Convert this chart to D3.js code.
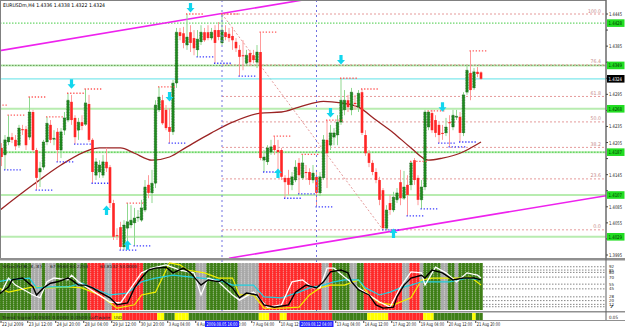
<!DOCTYPE html>
<html>
<head>
<meta charset="utf-8">
<script src="https://cdn.jsdelivr.net/npm/d3@7"></script>
<style>
  html, body { margin: 0; padding: 0; background: #fff; }
  svg { display: block; font-family: "DejaVu Sans", "Liberation Sans", sans-serif; }
</style>
</head>
<body>
<svg id="chart" width="625" height="327"></svg>
<script>
// ---- bar data (EURUSDm H4, bar 0 = 22 Jul 2009 00:00) ----
const barOpen = [
  1.4191, 1.4195, 1.4182, 1.4206, 1.4215, 1.4210, 1.4200, 1.4230, 1.4230, 1.4215,
  1.4262, 1.4191, 1.4150, 1.4159, 1.4206, 1.4238, 1.4211, 1.4225, 1.4191, 1.4228,
  1.4247, 1.4281, 1.4251, 1.4228, 1.4243, 1.4239, 1.4277, 1.4210, 1.4144, 1.4150,
  1.4144, 1.4169, 1.4159, 1.4092, 1.4032, 1.4047, 1.4010, 1.4045, 1.4051, 1.4055,
  1.4064, 1.4060, 1.4079, 1.4126, 1.4111, 1.4129, 1.4266, 1.4284, 1.4266, 1.4234,
  1.4225, 1.4316, 1.4411, 1.4409, 1.4387, 1.4411, 1.4400, 1.4378, 1.4393, 1.4411,
  1.4411, 1.4400, 1.4415, 1.4415, 1.4391, 1.4411, 1.4408, 1.4404, 1.4393, 1.4378,
  1.4368, 1.4353, 1.4372, 1.4368, 1.4355, 1.4374, 1.4172, 1.4169, 1.4187, 1.4200,
  1.4191, 1.4191, 1.4139, 1.4139, 1.4126, 1.4135, 1.4167, 1.4139, 1.4150, 1.4150,
  1.4135, 1.4141, 1.4111, 1.4139, 1.4210, 1.4200, 1.4215, 1.4219, 1.4243, 1.4266,
  1.4284, 1.4266, 1.4279, 1.4271, 1.4299, 1.4219, 1.4185, 1.4167, 1.4150, 1.4135,
  1.4116, 1.4045, 1.4092, 1.4079, 1.4098, 1.4131, 1.4101, 1.4126, 1.4126, 1.4172,
  1.4139, 1.4098, 1.4122, 1.4234, 1.4260, 1.4247, 1.4238, 1.4223, 1.4223, 1.4243,
  1.4234, 1.4253, 1.4253, 1.4223, 1.4299, 1.4335, 1.4307, 1.4337, 1.4336
];
const barHigh = [
  1.4200, 1.4204, 1.4219, 1.4256, 1.4223, 1.4219, 1.4238, 1.4238, 1.4236, 1.4290,
  1.4266, 1.4195, 1.4169, 1.4210, 1.4253, 1.4247, 1.4228, 1.4232, 1.4232, 1.4262,
  1.4297, 1.4294, 1.4256, 1.4251, 1.4256, 1.4305, 1.4294, 1.4213, 1.4176, 1.4172,
  1.4182, 1.4195, 1.4163, 1.4098, 1.4045, 1.4057, 1.4060, 1.4092, 1.4088, 1.4083,
  1.4079, 1.4098, 1.4135, 1.4144, 1.4154, 1.4284, 1.4309, 1.4294, 1.4275, 1.4269,
  1.4322, 1.4419, 1.4419, 1.4421, 1.4445, 1.4424, 1.4415, 1.4415, 1.4424, 1.4419,
  1.4424, 1.4419, 1.4424, 1.4430, 1.4445, 1.4424, 1.4419, 1.4421, 1.4400, 1.4387,
  1.4396, 1.4378, 1.4378, 1.4378, 1.4387, 1.4411, 1.4191, 1.4200, 1.4210, 1.4217,
  1.4210, 1.4195, 1.4144, 1.4154, 1.4150, 1.4172, 1.4176, 1.4183, 1.4163, 1.4157,
  1.4163, 1.4154, 1.4150, 1.4219, 1.4247, 1.4238, 1.4232, 1.4256, 1.4325, 1.4303,
  1.4294, 1.4307, 1.4294, 1.4303, 1.4305, 1.4228, 1.4191, 1.4172, 1.4157, 1.4141,
  1.4120, 1.4088, 1.4107, 1.4113, 1.4120, 1.4154, 1.4152, 1.4144, 1.4170, 1.4176,
  1.4144, 1.4135, 1.4266, 1.4264, 1.4266, 1.4256, 1.4243, 1.4238, 1.4251, 1.4256,
  1.4266, 1.4266, 1.4262, 1.4299, 1.4350, 1.4376, 1.4344, 1.4346, 1.4338
];
const barLow = [
  1.4176, 1.4161, 1.4154, 1.4200, 1.4204, 1.4191, 1.4195, 1.4219, 1.4191, 1.4210,
  1.4187, 1.4116, 1.4122, 1.4154, 1.4200, 1.4204, 1.4200, 1.4169, 1.4176, 1.4219,
  1.4243, 1.4238, 1.4202, 1.4210, 1.4228, 1.4236, 1.4206, 1.4129, 1.4135, 1.4139,
  1.4139, 1.4150, 1.4083, 1.4023, 1.4023, 1.4004, 1.4004, 1.4010, 1.4045, 1.4012,
  1.4057, 1.4057, 1.4075, 1.4101, 1.4092, 1.4120, 1.4262, 1.4238, 1.4228, 1.4204,
  1.4219, 1.4307, 1.4396, 1.4381, 1.4378, 1.4374, 1.4368, 1.4365, 1.4387, 1.4393,
  1.4396, 1.4396, 1.4353, 1.4396, 1.4387, 1.4396, 1.4393, 1.4378, 1.4374, 1.4329,
  1.4340, 1.4350, 1.4348, 1.4353, 1.4344, 1.4172, 1.4150, 1.4163, 1.4182, 1.4182,
  1.4154, 1.4135, 1.4101, 1.4107, 1.4116, 1.4131, 1.4109, 1.4135, 1.4135, 1.4126,
  1.4129, 1.4085, 1.4105, 1.4135, 1.4120, 1.4191, 1.4200, 1.4200, 1.4238, 1.4256,
  1.4262, 1.4256, 1.4266, 1.4262, 1.4219, 1.4180, 1.4159, 1.4144, 1.4129, 1.4088,
  1.4042, 1.4042, 1.4070, 1.4075, 1.4092, 1.4088, 1.4098, 1.4068, 1.4116, 1.4126,
  1.4088, 1.4081, 1.4116, 1.4228, 1.4223, 1.4215, 1.4204, 1.4210, 1.4217, 1.4197,
  1.4228, 1.4247, 1.4206, 1.4217, 1.4294, 1.4284, 1.4303, 1.4327, 1.4322
];
const barClose = [
  1.4182, 1.4178, 1.4210, 1.4215, 1.4210, 1.4198, 1.4232, 1.4228, 1.4200, 1.4262,
  1.4191, 1.4139, 1.4157, 1.4206, 1.4241, 1.4210, 1.4213, 1.4191, 1.4225, 1.4251,
  1.4284, 1.4247, 1.4215, 1.4243, 1.4236, 1.4279, 1.4210, 1.4150, 1.4169, 1.4163,
  1.4169, 1.4157, 1.4092, 1.4029, 1.4030, 1.4010, 1.4051, 1.4057, 1.4060, 1.4064,
  1.4066, 1.4083, 1.4122, 1.4111, 1.4129, 1.4275, 1.4290, 1.4241, 1.4232, 1.4225,
  1.4316, 1.4411, 1.4404, 1.4391, 1.4402, 1.4391, 1.4381, 1.4398, 1.4411, 1.4396,
  1.4400, 1.4411, 1.4391, 1.4402, 1.4415, 1.4402, 1.4400, 1.4396, 1.4381, 1.4365,
  1.4366, 1.4368, 1.4355, 1.4359, 1.4374, 1.4176, 1.4178, 1.4195, 1.4197, 1.4191,
  1.4187, 1.4141, 1.4131, 1.4126, 1.4141, 1.4159, 1.4144, 1.4167, 1.4148, 1.4135,
  1.4148, 1.4111, 1.4141, 1.4210, 1.4185, 1.4223, 1.4223, 1.4243, 1.4284, 1.4284,
  1.4271, 1.4299, 1.4277, 1.4297, 1.4223, 1.4185, 1.4167, 1.4150, 1.4135, 1.4098,
  1.4045, 1.4079, 1.4079, 1.4103, 1.4111, 1.4101, 1.4122, 1.4107, 1.4167, 1.4135,
  1.4098, 1.4122, 1.4262, 1.4262, 1.4228, 1.4223, 1.4219, 1.4221, 1.4234, 1.4241,
  1.4256, 1.4254, 1.4223, 1.4294, 1.4340, 1.4303, 1.4337, 1.4333, 1.4324
];

// moving average, read at selected bars: [bar, price]
const maPoints = [
  [0, 1.4076], [10, 1.4126], [18, 1.4163], [26, 1.4191], [29, 1.4195], [35, 1.4195],
  [39, 1.4185], [44, 1.4172], [49, 1.4178], [54, 1.4197], [61, 1.4223], [67, 1.4243],
  [75, 1.4260], [81, 1.4262], [86, 1.4271], [93, 1.4282], [98, 1.4279], [103, 1.4271],
  [108, 1.4247], [113, 1.4223], [118, 1.4195], [123, 1.4172], [127, 1.4176], [132, 1.4185],
  [138, 1.4206]
];

// fractal levels: [bar, price]
const fractalHighs = [
  [-2, 1.4275], [3, 1.4256], [9, 1.4290], [14, 1.4253], [20, 1.4297], [25, 1.4305],
  [37, 1.4092], [46, 1.4309], [54, 1.4445], [64, 1.4445], [75, 1.4411], [79, 1.4217],
  [87, 1.4183], [94, 1.4247], [98, 1.4325], [104, 1.4305], [118, 1.4170], [123, 1.4264],
  [135, 1.4376]
];
const fractalLows = [
  [2, 1.4154], [11, 1.4116], [17, 1.4169], [22, 1.4202], [27, 1.4129], [35, 1.4004],
  [39, 1.4012], [49, 1.4204], [57, 1.4365], [62, 1.4353], [69, 1.4329], [76, 1.4150],
  [82, 1.4101], [86, 1.4109], [91, 1.4085], [110, 1.4042], [117, 1.4068], [121, 1.4081],
  [126, 1.4204], [129, 1.4197], [132, 1.4206]
];

// signal arrows: [bar, price, direction]  (1 = down, -1 = up)
const signalArrows = [
  [21, 1.4314, 1], [31, 1.4079, -1], [37, 1.4014, -1], [49, 1.4290, 1], [55, 1.4456, 1],
  [80, 1.4148, -1], [95, 1.4260, 1], [98, 1.4359, 1], [113, 1.4036, -1], [127, 1.4271, 1]
];

// fibonacci retracement
const fibHigh = [64, 1.4445];
const fibLow = [110, 1.4042];
const fibRatios = [0, 23.6, 38.2, 50, 61.8, 76.4, 100];

// support / resistance levels
const srLevels = [1.4428, 1.4349, 1.4268, 1.4187, 1.4107, 1.4029];

// trend lines: two [bar, price] anchors each
const trendUpper = [[0, 1.4376], [86, 1.4470]];
const trendLower = [[66, 1.3989], [138, 1.4067]];

// vertical markers
const markerBars = [64, 91];
const markerLabels = ["2009.08.05 16:00", "2009.08.12 04:00"];

// axes
const priceTicks = [1.4445, 1.4415, 1.4385, 1.4355, 1.4325, 1.4295, 1.4265, 1.4235,
  1.4205, 1.4175, 1.4145, 1.4115, 1.4085, 1.4055, 1.4025, 1.3995];
const timeTickBars = [0, 9, 17, 25, 33, 41, 49, 57, 65, 73, 81, 89, 97, 105, 113, 121, 129, 137];
const timeTickLabels = ["22 Jul 2009", "23 Jul 12:00", "24 Jul 20:00", "28 Jul 04:00", "29 Jul 12:00",
  "30 Jul 20:00", "3 Aug 04:00", "4 Aug 12:00", "5 Aug 20:00", "7 Aug 04:00", "10 Aug 12:00",
  "11 Aug 20:00", "13 Aug 04:00", "14 Aug 12:00", "17 Aug 20:00", "19 Aug 04:00", "20 Aug 12:00",
  "21 Aug 20:00"];

// oscillator window: [bar, value]
const oscBlack = [[0,32],[3,49],[4,64],[7,68],[10,49],[11,32],[13,47],[15,57],[17,60],[20,68],[21,64],
  [23,53],[25,53],[27,47],[29,38],[32,26],[34,11],[37,15],[39,47],[41,68],[43,85],[45,89],[48,91],
  [50,79],[53,89],[55,79],[58,53],[60,64],[63,60],[64,64],[67,47],[69,26],[71,36],[74,32],[76,11],
  [79,6],[83,11],[85,38],[88,53],[91,47],[93,60],[95,81],[98,85],[100,79],[101,60],[103,43],[106,32],
  [108,11],[110,4],[113,6],[114,28],[116,53],[118,68],[121,74],[122,68],[124,85],[127,79],[130,64],
  [133,68],[136,68],[138,64]];
const oscWhite = [[1,38],[3,68],[5,53],[10,32],[12,26],[14,60],[16,68],[20,64],[21,74],[23,60],[28,36],
  [32,17],[35,15],[38,47],[41,79],[44,89],[48,96],[52,85],[56,79],[58,32],[60,68],[63,60],[67,32],
  [69,21],[73,38],[77,6],[81,11],[84,60],[87,64],[90,47],[92,47],[94,89],[96,89],[99,70],[103,47],
  [109,17],[112,6],[115,49],[118,81],[121,79],[122,53],[125,91],[128,79],[131,60],[134,79],[137,74],
  [138,68]];
const oscCyan = [[0,60],[3,64],[9,68],[11,47],[15,49],[20,49],[24,57],[27,47],[32,32],[37,36],[41,60],
  [45,68],[50,74],[58,68],[63,64],[67,53],[73,53],[76,28],[81,26],[86,38],[89,47],[93,53],[96,60],
  [99,64],[103,64],[105,47],[109,32],[112,38],[115,47],[118,53],[121,60],[125,60],[129,60],[134,68],
  [138,64]];
const oscYellow = [[0,47],[3,38],[6,43],[10,49],[15,47],[20,49],[24,47],[29,32],[34,4],[39,11],[41,32],
  [45,38],[49,100],[52,96],[54,85],[59,79],[63,68],[67,68],[69,32],[73,32],[76,4],[81,4],[86,6],
  [89,32],[92,47],[95,53],[99,53],[103,64],[106,32],[109,15],[113,11],[118,26],[121,64],[124,68],
  [128,68],[132,68],[135,70],[138,53]];
const oscLevels = [92, 85, 80, 70, 55, 45, 28, 20, 12, 7];

// state runs: [state, number of bars]
const oscStateRuns = [["g",10],["s",3],["g",1],["s",3],["g",6],["s",1],["g",2],["r",5],["s",2],["r",9],
  ["g",15],["s",3],["g",9],["s",6],["r",18],["s",2],["r",1],["g",5],["s",2],["g",2],["r",11],["s",2],
  ["r",3],["s",1],["g",5],["s",2],["g",2],["s",1],["g",7]];
const stripStateRuns = [["g",27],["r",6],["y",3],["r",10],["y",2],["g",3],["y",4],["g",20],["y",3],
  ["r",3],["y",2],["r",13],["g",10],["y",6],["r",10],["y",3],["g",11],["y",1],["g",2]];

const titleText = "EURUSDm,H4  1.4336 1.4338 1.4322 1.4324";
const oscHeader = ["Stoch(8,3,3)", "67.9560  64.2254", "63.8132  53.0000"];
const stripHeader = ["Trend Signal  0.0500  0.0000  0.0500  software", "USD"];

// ---- layout ----
const W = 625, H = 327;
const plotRight = 606;
const mainTop = 0, mainBottom = 258;
const oscTop = 261, oscBottom = 311;
const stripTop = 313, stripBottom = 320;

const svg = d3.select('#chart');
const nBars = barClose.length;
const bars = d3.range(nBars);

const x = d3.scaleLinear().domain([0, nBars - 1]).range([-2, 481]);
const y = d3.scaleLinear().domain([1.3995, 1.4445]).range([255, 14]);
const yOsc = d3.scaleLinear().domain([0, 100]).range([310, 263]);
const step = x(1) - x(0);

const expandRuns = runs => runs.flatMap(([s, n]) => d3.range(n).map(() => s));
const oscState = expandRuns(oscStateRuns);
const stripState = expandRuns(stripStateRuns);

const defs = svg.append('defs');
defs.append('clipPath').attr('id', 'clipMain')
  .append('rect').attr('x', 0).attr('y', mainTop).attr('width', plotRight).attr('height', mainBottom - mainTop);
defs.append('clipPath').attr('id', 'clipOsc')
  .append('rect').attr('x', 0).attr('y', oscTop).attr('width', plotRight).attr('height', oscBottom - oscTop);

// small text helper: squeezes text into a fixed width like the terminal font
function smallText(g, tx, ty, str, size, width, fill, anchor) {
  return g.append('text').attr('x', tx).attr('y', ty)
    .attr('font-size', size).attr('fill', fill)
    .attr('text-anchor', anchor || 'start')
    .attr('textLength', width).attr('lengthAdjust', 'spacingAndGlyphs')
    .text(str);
}

// ---- main window ----
const gMain = svg.append('g').attr('clip-path', 'url(#clipMain)');

// support / resistance lines
srLevels.forEach((p, k) => {
  const yy = y(p);
  if (k !== 0) {
    gMain.append('line').attr('x1', 0).attr('x2', plotRight).attr('y1', yy).attr('y2', yy)
      .attr('stroke', '#b8ecb0').attr('stroke-width', 2);
  }
  if (k === 0 || k === 1 || k === 3) {
    gMain.append('line').attr('x1', 0).attr('x2', plotRight).attr('y1', yy).attr('y2', yy)
      .attr('stroke', k === 1 ? '#6a9a5a' : '#44cc44').attr('stroke-width', 1)
      .attr('stroke-dasharray', '1.5,1.5');
  }
});

// fibonacci levels
const fibX0 = x(fibHigh[0]);
fibRatios.forEach(r => {
  const p = fibLow[1] + (fibHigh[1] - fibLow[1]) * r / 100;
  gMain.append('line').attr('x1', fibX0).attr('x2', plotRight).attr('y1', y(p)).attr('y2', y(p))
    .attr('stroke', '#e59a9a').attr('stroke-width', 1).attr('stroke-dasharray', '2,2');
  const label = r.toFixed(1);
  smallText(gMain, 601, y(p) - 1.5, label, 5, label.length * 2.6, '#c88c8c', 'end');
});
gMain.append('line')
  .attr('x1', x(fibHigh[0])).attr('y1', y(fibHigh[1]))
  .attr('x2', x(fibLow[0])).attr('y2', y(fibLow[1]))
  .attr('stroke', '#e59a9a').attr('stroke-width', 1).attr('stroke-dasharray', '2,2');

// bid line
gMain.append('line').attr('x1', 0).attr('x2', plotRight)
  .attr('y1', y(barClose[nBars - 1])).attr('y2', y(barClose[nBars - 1]))
  .attr('stroke', '#7fe8ec').attr('stroke-width', 1.2);

// vertical marker lines
markerBars.forEach(b => {
  svg.append('line').attr('x1', x(b)).attr('x2', x(b)).attr('y1', 0).attr('y2', stripTop - 1)
    .attr('stroke', '#7070e0').attr('stroke-width', 1).attr('stroke-dasharray', '2,3');
});

// trend lines, extended across the window
function extendLine(pts, x0, x1) {
  const [a, b] = pts;
  const px0 = x(a[0]), py0 = y(a[1]), px1 = x(b[0]), py1 = y(b[1]);
  const k = (py1 - py0) / (px1 - px0);
  return [[x0, py0 + (x0 - px0) * k], [x1, py0 + (x1 - px0) * k]];
}
[[trendUpper, -10, 340], [trendLower, x(trendLower[0][0]), plotRight]].forEach(([pts, a, b]) => {
  const seg = extendLine(pts, a, b);
  gMain.append('line').attr('x1', seg[0][0]).attr('y1', seg[0][1]).attr('x2', seg[1][0]).attr('y2', seg[1][1])
    .attr('stroke', '#ee22ee').attr('stroke-width', 1.6);
});

// moving average
gMain.append('path').datum(maPoints)
  .attr('fill', 'none').attr('stroke', '#9b2424').attr('stroke-width', 1.3)
  .attr('d', d3.line().x(d => x(d[0])).y(d => y(d[1])).curve(d3.curveMonotoneX));

// candles
const bull = i => barClose[i] >= barOpen[i];
gMain.append('g').selectAll('line').data(bars).join('line')
  .attr('x1', i => x(i)).attr('x2', i => x(i))
  .attr('y1', i => y(barHigh[i])).attr('y2', i => y(barLow[i]))
  .attr('stroke', i => bull(i) ? '#8fd88f' : '#ff9a9a').attr('stroke-width', 1);
const bodyW = 2.6;
gMain.append('g').selectAll('rect').data(bars).join('rect')
  .attr('x', i => x(i) - bodyW / 2)
  .attr('y', i => y(Math.max(barOpen[i], barClose[i])))
  .attr('width', bodyW)
  .attr('height', i => Math.max(1, Math.abs(y(barOpen[i]) - y(barClose[i]))))
  .attr('fill', i => bull(i) ? '#1f8a1f' : '#ff2626')
  .attr('stroke', i => bull(i) ? '#0b3d0b' : 'none')
  .attr('stroke-width', 0.5)
  .attr('stroke-dasharray', '0.8,0.8');

// fractal levels
const fracLen = 5;
[[fractalHighs, '#ff5a5a'], [fractalLows, '#3c3cff']].forEach(([list, col]) => {
  gMain.append('g').selectAll('line').data(list).join('line')
    .attr('x1', d => x(d[0]) - 1).attr('x2', d => x(d[0] + fracLen))
    .attr('y1', d => y(d[1])).attr('y2', d => y(d[1]))
    .attr('stroke', col).attr('stroke-width', 1.3).attr('stroke-dasharray', '1.3,1.8');
});

// arrows
function arrowPath(dir) {
  const pts = [[-1.6, -5], [1.6, -5], [1.6, 0], [4, 0], [0, 4.5], [-4, 0], [-1.6, 0]];
  return 'M' + pts.map(p => p[0] + ',' + p[1] * dir).join('L') + 'Z';
}
gMain.append('g').selectAll('path').data(signalArrows).join('path')
  .attr('transform', d => `translate(${x(d[0])},${y(d[1])})`)
  .attr('d', d => arrowPath(d[2]))
  .attr('fill', '#11d6ee');

// title
smallText(svg, 3, 7, titleText, 5, 102, '#000');

// ---- oscillator window ----
const gOsc = svg.append('g').attr('clip-path', 'url(#clipOsc)');
oscLevels.forEach(v => {
  gOsc.append('line').attr('x1', 0).attr('x2', plotRight).attr('y1', yOsc(v)).attr('y2', yOsc(v))
    .attr('stroke', '#666').attr('stroke-width', 0.8).attr('stroke-dasharray', '1.5,1.5');
});
const oscColor = { g: '#3f7f17', r: '#ff2a2a', s: '#a9a9a9' };
gOsc.append('g').selectAll('rect').data(bars).join('rect')
  .attr('x', i => x(i) - step / 2).attr('y', yOsc(100))
  .attr('width', step).attr('height', yOsc(0) - yOsc(100))
  .attr('fill', i => oscColor[oscState[i]]);
gOsc.append('g').selectAll('line').data(bars).join('line')
  .attr('x1', i => x(i) - step / 2).attr('x2', i => x(i) - step / 2)
  .attr('y1', yOsc(100)).attr('y2', yOsc(0))
  .attr('stroke', '#e8e8e8').attr('stroke-opacity', 0.7).attr('stroke-width', 0.6)
  .attr('stroke-dasharray', '1,1');
const oscLine = d3.line().x(d => x(d[0])).y(d => yOsc(d[1]));
[[oscYellow, '#f0f000', 1.2], [oscCyan, '#22d0e0', 1.2], [oscWhite, '#ffffff', 1.3], [oscBlack, '#000000', 1.4]]
  .forEach(([data, col, w]) => {
    gOsc.append('path').datum(data).attr('fill', 'none').attr('stroke', col)
      .attr('stroke-width', w).attr('d', oscLine);
  });
smallText(svg, 2, 268, oscHeader[0], 4.2, 40, '#1a1a1a');
smallText(svg, 50, 268, oscHeader[1], 4.2, 38, '#1a1a1a');
smallText(svg, 100, 268, oscHeader[2], 4.2, 37, '#1a1a1a');

// ---- state strip ----
const stripColor = { g: '#3f7f17', r: '#ff2a2a', y: '#ffff00' };
svg.append('g').selectAll('rect').data(bars).join('rect')
  .attr('x', i => Math.max(0, x(i) - step / 2)).attr('y', stripTop)
  .attr('width', step).attr('height', stripBottom - stripTop)
  .attr('fill', i => stripColor[stripState[i]]);
smallText(svg, 2, 318.5, stripHeader[0], 4.2, 108, '#1a1a1a');
smallText(svg, 114, 318.5, stripHeader[1], 4.2, 8, '#1a1a1a');

// ---- frames ----
svg.append('rect').attr('x', 0.5).attr('y', 0.5).attr('width', plotRight - 0.5).attr('height', mainBottom)
  .attr('fill', 'none').attr('stroke', '#808080');
svg.append('rect').attr('x', 0).attr('y', mainBottom).attr('width', W).attr('height', 2.5).attr('fill', '#909090');
svg.append('rect').attr('x', 0).attr('y', oscBottom).attr('width', W).attr('height', 1.5).attr('fill', '#909090');
svg.append('rect').attr('x', 0).attr('y', stripBottom).attr('width', W).attr('height', 1).attr('fill', '#909090');
svg.append('line').attr('x1', plotRight).attr('x2', plotRight).attr('y1', 0).attr('y2', stripBottom)
  .attr('stroke', '#606060');

// ---- price axis ----
const gAxis = svg.append('g');
const boxLevels = srLevels.concat([barClose[nBars - 1]]);
priceTicks.forEach(p => {
  gAxis.append('line').attr('x1', plotRight).attr('x2', plotRight + 2).attr('y1', y(p)).attr('y2', y(p)).attr('stroke', '#444');
  // labels hidden behind a level box are not drawn
  if (boxLevels.some(b => Math.abs(y(b) - y(p)) < 7)) return;
  smallText(gAxis, 609, y(p) + 2, p.toFixed(4), 5, 13, '#222');
});
function axisBox(p, bg, fg) {
  gAxis.append('rect').attr('x', plotRight + 1).attr('y', y(p) - 3.8).attr('width', 17.5).attr('height', 7.6).attr('fill', bg);
  smallText(gAxis, plotRight + 2.5, y(p) + 2, p.toFixed(4), 5, 13.5, fg);
}
srLevels.forEach(p => axisBox(p, '#22dd22', '#003300'));
axisBox(barClose[nBars - 1], '#000', '#fff');

// oscillator scale
oscLevels.forEach(v => {
  smallText(gAxis, 609, yOsc(v) + 1.6, String(v), 4.2, 5, '#222');
});
smallText(gAxis, 609, stripBottom - 1.5, '0.05', 4.5, 9, '#222');

// ---- time axis ----
const markerSpan = markerBars.map(b => [x(b) - 17, x(b) + 17]);
timeTickBars.forEach((b, k) => {
  const tx = Math.max(1, x(b) - step / 2);
  gAxis.append('line').attr('x1', tx).attr('x2', tx).attr('y1', stripBottom + 1).attr('y2', stripBottom + 3).attr('stroke', '#444');
  const label = timeTickLabels[k];
  const w = label.length * 1.95;
  // a label lying wholly under a marker box is hidden
  if (markerSpan.some(s => tx >= s[0] && tx + w <= s[1] + 2)) return;
  smallText(gAxis, tx + 1, 326, label, 5, w, '#222');
});
markerBars.forEach((b, k) => {
  gAxis.append('rect').attr('x', x(b) - 17).attr('y', stripBottom + 1).attr('width', 34).attr('height', 7).attr('fill', '#2222ff');
  smallText(gAxis, x(b), 326, markerLabels[k], 5, 31, '#fff', 'middle');
});
</script>
</body>
</html>
